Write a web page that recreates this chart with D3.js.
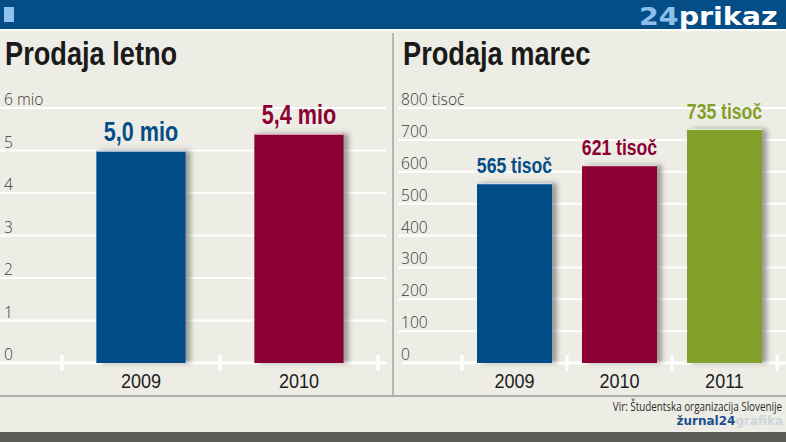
<!DOCTYPE html>
<html>
<head>
<meta charset="utf-8">
<script src="https://cdn.jsdelivr.net/npm/d3@7"></script>
<style>
  html, body { margin: 0; padding: 0; background: #eeede5; }
  svg { display: block; }
  .narrow { font-family: "Liberation Sans", Arial, sans-serif; }
  .light { font-family: "Open Sans", "Lato", sans-serif; font-weight: 300; }
</style>
</head>
<body>
<div id="chart"></div>
<script>
// letna prodaja (mio)
const years1 = ["2009", "2010"];
const sales1 = [5.0, 5.4];
const labels1 = ["5,0 mio", "5,4 mio"];
const ticks1 = [0, 1, 2, 3, 4, 5, 6];
const tickLabels1 = ["0", "1", "2", "3", "4", "5", "6 mio"];

// prodaja marec (tisoc)
const years2 = ["2009", "2010", "2011"];
const sales2 = [565, 621, 735];
const labels2 = ["565 tisoč", "621 tisoč", "735 tisoč"];
const ticks2 = [0, 100, 200, 300, 400, 500, 600, 700, 800];
const tickLabels2 = ["0", "100", "200", "300", "400", "500", "600", "700", "800 tisoč"];

const colors = ["#034e88", "#8a0033", "#82a02a"];

const W = 786, H = 442;
const svg = d3.select("#chart").append("svg")
    .attr("width", W)
    .attr("height", H);

// ozadje
svg.append("rect").attr("width", W).attr("height", H).attr("fill", "#eeede5");

// senca za stolpce
const defs = svg.append("defs");
const f = defs.append("filter").attr("id", "shadow")
    .attr("x", "-10%").attr("y", "-5%").attr("width", "130%").attr("height", "110%");
f.append("feDropShadow")
    .attr("dx", 5).attr("dy", 0).attr("stdDeviation", 2.5)
    .attr("flood-color", "#555").attr("flood-opacity", 0.55);

// ozek tekst (skaliran po x)
const sq = (x, y, s) => `translate(${x},${y}) scale(${s},1)`;

// glava
svg.append("rect").attr("width", W).attr("height", 29).attr("fill", "#054d86");
svg.append("rect").attr("x", 0).attr("y", 29).attr("width", W).attr("height", 2).attr("fill", "#fbfbf8");
svg.append("rect").attr("x", 4).attr("y", 7).attr("width", 10).attr("height", 15).attr("fill", "#8fc2ec");
const logo = svg.append("text")
    .attr("transform", sq(639, 25, 1.14))
    .style("font-family", "DejaVu Sans")
    .style("font-weight", "bold")
    .style("font-size", "25px");
logo.append("tspan").attr("fill", "#8cc0ea").text("24");
logo.append("tspan").attr("fill", "#ffffff").text("prikaz");

// naslova
[["Prodaja letno", 5], ["Prodaja marec", 403]].forEach(([t, x]) => {
    svg.append("text").attr("class", "narrow")
        .attr("transform", sq(x, 65, 0.8))
        .attr("fill", "#1a1a1a")
        .style("font-size", "34px").style("font-weight", "bold")
        .text(t);
});

// ločilna črta
svg.append("line")
    .attr("x1", 393).attr("x2", 393).attr("y1", 33).attr("y2", 395)
    .attr("stroke", "#b8b7b0").attr("stroke-width", 2);

function drawPanel(cfg){
    const y = d3.scaleLinear()
        .domain([0, d3.max(cfg.ticks)])
        .range([363, 108]);

    const x = d3.scaleBand()
        .domain(cfg.cats)
        .range(cfg.xRange)
        .padding(0);

    const g = svg.append("g");

    // mreža
    g.selectAll("line.grid")
        .data(cfg.ticks.filter(t => t > 0))
        .enter()
        .append("line")
        .attr("class", "grid")
        .attr("x1", cfg.gridX[0]).attr("x2", cfg.gridX[1])
        .attr("y1", d => y(d)).attr("y2", d => y(d))
        .attr("stroke", "#ffffff").attr("stroke-width", 2);

    // oznake osi y
    g.selectAll("text.tick")
        .data(cfg.ticks)
        .enter()
        .append("text")
        .attr("class", "tick light")
        .attr("transform", d => sq(cfg.labelX, y(d) - 3, 0.92))
        .attr("fill", "#3a3a3a")
        .style("font-size", "17px")
        .text((d, i) => cfg.tickLabels[i]);

    // os x
    g.append("line")
        .attr("x1", cfg.axisX[0]).attr("x2", cfg.axisX[1])
        .attr("y1", y(0)).attr("y2", y(0))
        .attr("stroke", "#ffffff").attr("stroke-width", 3);

    const bounds = cfg.cats.map(c => x(c)).concat([x.range()[1]]);
    g.selectAll("line.xtick")
        .data(bounds)
        .enter()
        .append("line")
        .attr("class", "xtick")
        .attr("x1", d => d).attr("x2", d => d)
        .attr("y1", y(0) - 8).attr("y2", y(0) + 8)
        .attr("stroke", "#ffffff").attr("stroke-width", 3);

    const bw = x.bandwidth() * cfg.barFrac;
    const off = (x.bandwidth() - bw) / 2;

    // stolpci
    g.selectAll("rect.bar")
        .data(cfg.values)
        .enter()
        .append("rect")
        .attr("class", "bar")
        .attr("x", (d, i) => x(cfg.cats[i]) + off)
        .attr("y", d => y(d))
        .attr("width", bw)
        .attr("height", d => y(0) - y(d))
        .attr("fill", (d, i) => colors[i])
        .attr("filter", "url(#shadow)");

    g.selectAll("line.hl")
        .data(cfg.values)
        .enter()
        .append("line")
        .attr("class", "hl")
        .attr("x1", (d, i) => x(cfg.cats[i]) + off)
        .attr("x2", (d, i) => x(cfg.cats[i]) + off + bw)
        .attr("y1", d => y(d) + 0.5).attr("y2", d => y(d) + 0.5)
        .attr("stroke", "#ffffff").attr("stroke-opacity", 0.8).attr("stroke-width", 1.5);

    // vrednosti
    g.selectAll("text.val")
        .data(cfg.values)
        .enter()
        .append("text")
        .attr("class", "val narrow")
        .attr("transform", (d, i) => sq(x(cfg.cats[i]) + x.bandwidth() / 2, y(d) - 10, 0.8))
        .attr("text-anchor", "middle")
        .attr("fill", (d, i) => colors[i])
        .style("font-size", cfg.valSize + "px").style("font-weight", "bold")
        .text((d, i) => cfg.labels[i]);

    // leta
    g.selectAll("text.cat")
        .data(cfg.cats)
        .enter()
        .append("text")
        .attr("class", "cat narrow")
        .attr("transform", d => sq(x(d) + x.bandwidth() / 2, 388, 0.86))
        .attr("text-anchor", "middle")
        .attr("fill", "#1e1e1e")
        .style("font-size", "21px")
        .text(d => d);
}

drawPanel({
    cats: years1, values: sales1, labels: labels1,
    ticks: ticks1, tickLabels: tickLabels1,
    xRange: [62, 378], barFrac: 0.565, valSize: 27,
    gridX: [0, 386], axisX: [0, 386], labelX: 4
});

drawPanel({
    cats: years2, values: sales2, labels: labels2,
    ticks: ticks2, tickLabels: tickLabels2,
    xRange: [462, 777], barFrac: 0.714, valSize: 22,
    gridX: [398, 786], axisX: [402, 786], labelX: 401
});

// spodnji del
svg.append("line")
    .attr("x1", 0).attr("x2", W).attr("y1", 396).attr("y2", 396)
    .attr("stroke", "#9a9994").attr("stroke-width", 1.5);

svg.append("text")
    .attr("transform", sq(782, 411, 0.82))
    .attr("text-anchor", "end")
    .attr("fill", "#2a2a2a")
    .style("font-size", "12px")
    .style("font-family", "\"Open Sans\", sans-serif")
    .text("Vir: Študentska organizacija Slovenije");

const sig = svg.append("text")
    .attr("x", 783).attr("y", 425)
    .attr("text-anchor", "end")
    .style("font-family", "DejaVu Sans")
    .style("font-weight", "bold")
    .style("font-size", "12px");
sig.append("tspan").attr("fill", "#1c4f8e").text("žurnal24");
sig.append("tspan").attr("fill", "#cdd5de").text("grafika");

svg.append("rect").attr("x", 0).attr("y", 432).attr("width", W).attr("height", 10).attr("fill", "#5b5b58");
</script>
</body>
</html>
